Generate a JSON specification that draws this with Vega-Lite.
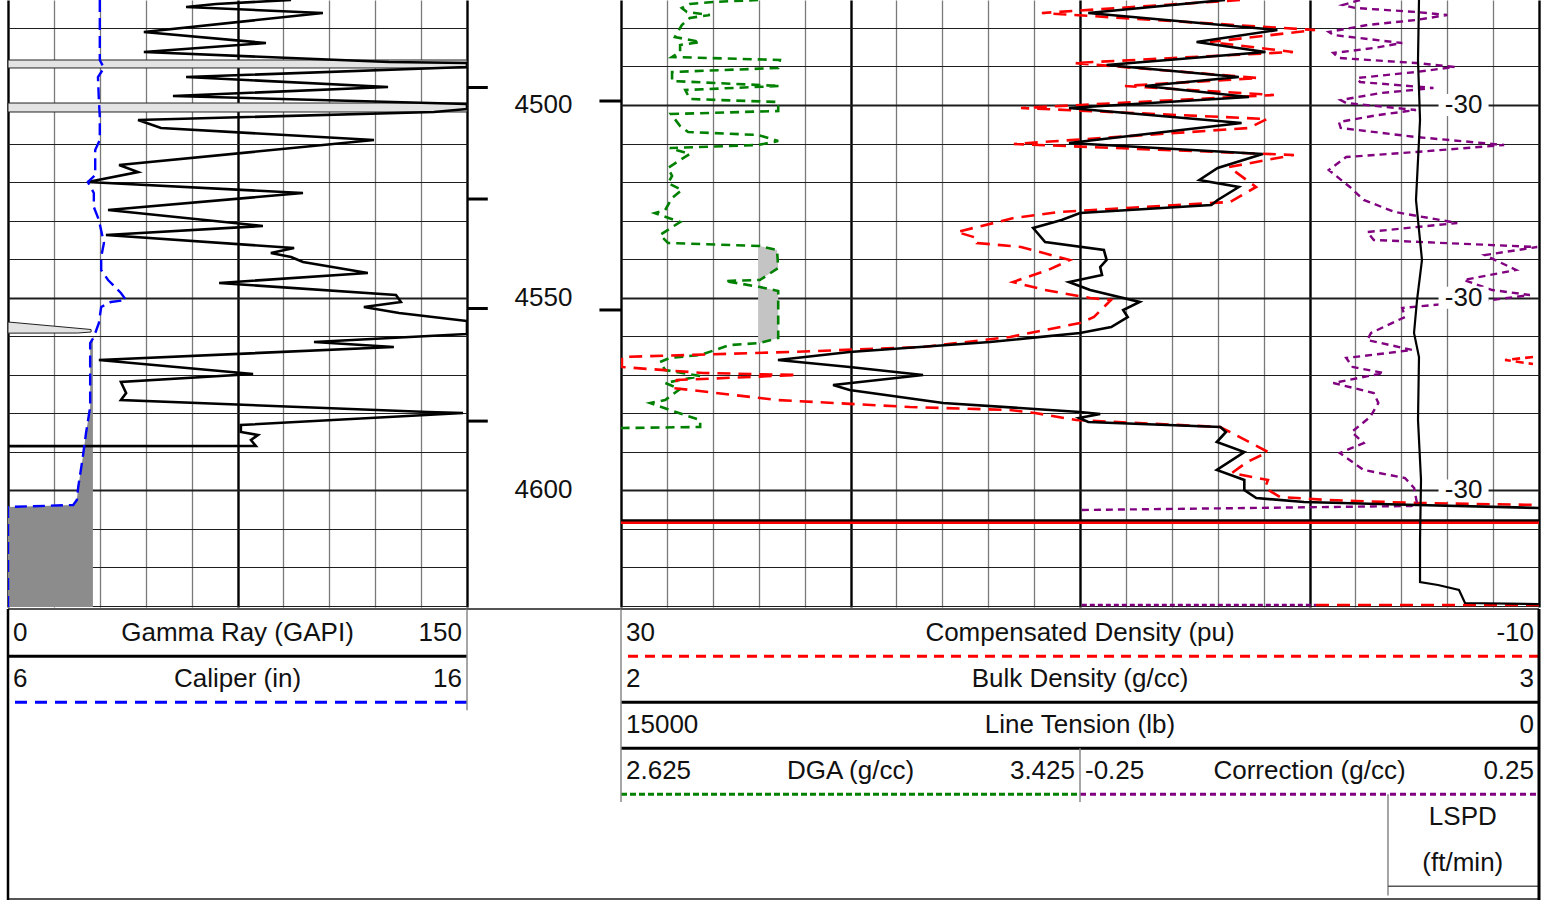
{
"$schema": "https://vega.github.io/schema/vega-lite/v6.json",
"padding": {"left": 6, "top": 0, "right": 0, "bottom": 0},
"background": "white",
"spacing": 0,
"config": {"view": {"stroke": null}, "font": "Liberation Sans", "text": {"font": "Liberation Sans"}, "concat": {"spacing": 0}},
"datasets": {
"gr": [
{"depth":4472.75,"gr":92.5},{"depth":4473.79,"gr":68.0},{"depth":4474.57,"gr":58.2},{"depth":4476.12,"gr":102.9},{"depth":4481.05,"gr":44.4},{"depth":4483.91,"gr":84.3},{"depth":4486.24,"gr":44.4},{"depth":4488.84,"gr":124.5},{"depth":4489.10,"gr":150},{"depth":4490.13,"gr":150},{"depth":4492.73,"gr":58.2},{"depth":4495.32,"gr":124.2},{"depth":4497.66,"gr":53.9},{"depth":4499.74,"gr":150},{"depth":4501.03,"gr":150},{"depth":4501.81,"gr":139.2},{"depth":4503.89,"gr":42.5},{"depth":4505.96,"gr":50.0},{"depth":4509.08,"gr":119.6},{"depth":4515.56,"gr":36.3},{"depth":4517.38,"gr":42.5},{"depth":4519.97,"gr":26.1},{"depth":4522.83,"gr":96.4},{"depth":4527.24,"gr":32.7},{"depth":4531.39,"gr":83.3},{"depth":4533.73,"gr":32.0},{"depth":4537.10,"gr":93.5},{"depth":4538.40,"gr":85.9},{"depth":4539.44,"gr":92.5},{"depth":4540.73,"gr":96.4},{"depth":4543.58,"gr":117.6},{"depth":4546.18,"gr":69.0},{"depth":4549.30,"gr":126.8},{"depth":4551.11,"gr":128.4},{"depth":4552.41,"gr":116.3},{"depth":4553.97,"gr":127.8},{"depth":4556.04,"gr":150},{"depth":4559.41,"gr":150},{"depth":4561.49,"gr":100.0},{"depth":4562.79,"gr":126.1},{"depth":4566.16,"gr":29.7},{"depth":4569.80,"gr":80.1},{"depth":4571.87,"gr":36.9},{"depth":4574.72,"gr":38.6},{"depth":4576.54,"gr":36.9},{"depth":4579.65,"gr":137.3},{"depth":4579.91,"gr":148.7},{"depth":4583.03,"gr":76.1},{"depth":4584.84,"gr":76.1},{"depth":4585.62,"gr":81.7},{"depth":4586.92,"gr":79.4},{"depth":4588.48,"gr":81.0},{"depth":4588.52,"gr":0}
],
"cali": [
{"depth":4472.75,"cal":8.00},{"depth":4488.32,"cal":8.00},{"depth":4490.39,"cal":8.09},{"depth":4492.73,"cal":7.96},{"depth":4498.70,"cal":7.98},{"depth":4503.11,"cal":8.00},{"depth":4509.08,"cal":8.00},{"depth":4511.67,"cal":7.90},{"depth":4518.16,"cal":7.90},{"depth":4519.97,"cal":7.74},{"depth":4522.83,"cal":7.87},{"depth":4526.46,"cal":7.87},{"depth":4529.83,"cal":7.98},{"depth":4535.80,"cal":8.09},{"depth":4539.44,"cal":8.03},{"depth":4542.81,"cal":8.03},{"depth":4545.40,"cal":8.18},{"depth":4548.77,"cal":8.46},{"depth":4550.59,"cal":8.57},{"depth":4551.11,"cal":8.24},{"depth":4552.41,"cal":8.03},{"depth":4556.56,"cal":7.98},{"depth":4560.19,"cal":7.87},{"depth":4561.75,"cal":7.79},{"depth":4578.36,"cal":7.79},{"depth":4585.10,"cal":7.70},{"depth":4591.33,"cal":7.63},{"depth":4599.11,"cal":7.53},{"depth":4602.49,"cal":7.50},{"depth":4603.78,"cal":7.42},{"depth":4604.30,"cal":6.0},{"depth":4630.25,"cal":6.0}
],
"hatch": [{"top":4488.32,"bot":4490.39},{"top":4499.48,"bot":4501.81}],
"wedge": [{"depth":4556.30,"w":6.0},{"depth":4558.25,"w":7.81},{"depth":4558.90,"w":7.81},{"depth":4559.16,"w":7.52},{"depth":4559.19,"w":6.0}],
"rhob": [
{"depth":4472.75,"rhob":2.658},{"depth":4476.12,"rhob":2.509},{"depth":4480.53,"rhob":2.715},{"depth":4483.65,"rhob":2.627},{"depth":4486.24,"rhob":2.702},{"depth":4489.62,"rhob":2.529},{"depth":4492.73,"rhob":2.673},{"depth":4495.06,"rhob":2.571},{"depth":4497.92,"rhob":2.684},{"depth":4500.77,"rhob":2.488},{"depth":4504.67,"rhob":2.676},{"depth":4509.85,"rhob":2.488},{"depth":4512.71,"rhob":2.699},{"depth":4516.34,"rhob":2.650},{"depth":4519.45,"rhob":2.630},{"depth":4521.27,"rhob":2.673},{"depth":4524.64,"rhob":2.650},{"depth":4525.94,"rhob":2.643},{"depth":4528.02,"rhob":2.500},{"depth":4529.83,"rhob":2.480},{"depth":4531.91,"rhob":2.449},{"depth":4535.54,"rhob":2.462},{"depth":4537.62,"rhob":2.526},{"depth":4540.21,"rhob":2.529},{"depth":4542.03,"rhob":2.522},{"depth":4544.11,"rhob":2.524},{"depth":4545.92,"rhob":2.488},{"depth":4548.00,"rhob":2.511},{"depth":4551.11,"rhob":2.565},{"depth":4553.18,"rhob":2.547},{"depth":4555.00,"rhob":2.552},{"depth":4557.60,"rhob":2.534},{"depth":4559.15,"rhob":2.500},{"depth":4561.49,"rhob":2.402},{"depth":4564.08,"rhob":2.249},{"depth":4566.16,"rhob":2.171},{"depth":4567.98,"rhob":2.249},{"depth":4570.05,"rhob":2.329},{"depth":4572.65,"rhob":2.231},{"depth":4573.95,"rhob":2.249},{"depth":4577.32,"rhob":2.351},{"depth":4579.65,"rhob":2.500},{"depth":4580.17,"rhob":2.522},{"depth":4581.21,"rhob":2.499},{"depth":4582.25,"rhob":2.509},{"depth":4583.54,"rhob":2.653},{"depth":4584.84,"rhob":2.659},{"depth":4587.44,"rhob":2.649},{"depth":4590.03,"rhob":2.679},{"depth":4594.70,"rhob":2.649},{"depth":4597.30,"rhob":2.679},{"depth":4599.89,"rhob":2.679},{"depth":4601.97,"rhob":2.692},{"depth":4603.01,"rhob":2.744},{"depth":4603.78,"rhob":2.867},{"depth":4604.56,"rhob":3.0}
],
"comp": [
{"depth":4472.75,"pu":3.03},{"depth":4476.12,"pu":11.66},{"depth":4480.53,"pu":-0.24},{"depth":4483.65,"pu":4.33},{"depth":4486.24,"pu":0.72},{"depth":4489.10,"pu":10.26},{"depth":4492.99,"pu":2.24},{"depth":4495.06,"pu":8.04},{"depth":4497.40,"pu":1.55},{"depth":4500.77,"pu":12.57},{"depth":4503.63,"pu":1.85},{"depth":4505.96,"pu":2.64},{"depth":4510.11,"pu":12.88},{"depth":4512.97,"pu":0.68},{"depth":4516.08,"pu":3.51},{"depth":4521.27,"pu":2.33},{"depth":4525.16,"pu":3.46},{"depth":4527.76,"pu":10.92},{"depth":4529.32,"pu":12.88},{"depth":4532.95,"pu":15.36},{"depth":4534.51,"pu":14.49},{"depth":4535.80,"pu":14.49},{"depth":4536.84,"pu":12.57},{"depth":4540.21,"pu":10.44},{"depth":4542.81,"pu":11.39},{"depth":4545.92,"pu":12.92},{"depth":4548.00,"pu":11.53},{"depth":4550.07,"pu":9.56},{"depth":4550.59,"pu":8.65},{"depth":4555.00,"pu":9.39},{"depth":4556.56,"pu":10.0},{"depth":4560.19,"pu":13.05},{"depth":4562.79,"pu":16.84},{"depth":4564.08,"pu":22.64},{"depth":4565.38,"pu":29.96},{"depth":4567.98,"pu":29.96},{"depth":4569.53,"pu":26.43},{"depth":4570.05,"pu":22.33},{"depth":4571.35,"pu":27.56},{"depth":4573.43,"pu":27.73},{"depth":4576.54,"pu":23.20},{"depth":4578.36,"pu":17.41},{"depth":4579.14,"pu":13.05},{"depth":4579.91,"pu":11.96},{"depth":4581.73,"pu":10.17},{"depth":4583.54,"pu":3.90},{"depth":4585.10,"pu":3.38},{"depth":4590.03,"pu":1.81},{"depth":4592.63,"pu":2.72},{"depth":4595.48,"pu":3.38},{"depth":4597.30,"pu":1.81},{"depth":4599.37,"pu":1.94},{"depth":4601.71,"pu":1.29},{"depth":4602.49,"pu":-0.80},{"depth":4603.26,"pu":-4.68},{"depth":4603.78,"pu":-10.0}
],
"compwrap": [{"depth":4565.38,"pu":-9.74},{"depth":4566.16,"pu":-8.52},{"depth":4567.20,"pu":-9.74}],
"compbottom": [{"depth":4629.73,"pu":-0.28},{"depth":4629.73,"pu":-10}],
"dga": [
{"depth":4472.75,"dga":2.864},{"depth":4473.27,"dga":2.785},{"depth":4473.79,"dga":2.745},{"depth":4474.83,"dga":2.731},{"depth":4475.86,"dga":2.740},{"depth":4476.64,"dga":2.780},{"depth":4477.42,"dga":2.745},{"depth":4479.24,"dga":2.731},{"depth":4482.35,"dga":2.719},{"depth":4483.65,"dga":2.763},{"depth":4484.43,"dga":2.728},{"depth":4486.24,"dga":2.728},{"depth":4487.54,"dga":2.714},{"depth":4488.32,"dga":2.902},{"depth":4490.39,"dga":2.899},{"depth":4491.43,"dga":2.714},{"depth":4493.77,"dga":2.714},{"depth":4495.06,"dga":2.902},{"depth":4496.10,"dga":2.737},{"depth":4498.44,"dga":2.745},{"depth":4499.22,"dga":2.899},{"depth":4501.55,"dga":2.899},{"depth":4502.33,"dga":2.712},{"depth":4505.44,"dga":2.728},{"depth":4507.00,"dga":2.742},{"depth":4507.78,"dga":2.864},{"depth":4509.34,"dga":2.899},{"depth":4510.37,"dga":2.864},{"depth":4511.15,"dga":2.710},{"depth":4512.71,"dga":2.745},{"depth":4514.27,"dga":2.728},{"depth":4516.34,"dga":2.707},{"depth":4518.42,"dga":2.714},{"depth":4520.23,"dga":2.707},{"depth":4522.05,"dga":2.731},{"depth":4524.13,"dga":2.714},{"depth":4527.24,"dga":2.702},{"depth":4528.02,"dga":2.684},{"depth":4530.35,"dga":2.728},{"depth":4533.73,"dga":2.693},{"depth":4535.80,"dga":2.707},{"depth":4536.58,"dga":2.867},{"depth":4537.62,"dga":2.897},{"depth":4542.29,"dga":2.899},{"depth":4545.40,"dga":2.867},{"depth":4545.66,"dga":2.806},{"depth":4547.22,"dga":2.867},{"depth":4548.26,"dga":2.899},{"depth":4560.45,"dga":2.899},{"depth":4561.75,"dga":2.867},{"depth":4562.27,"dga":2.815},{"depth":4564.86,"dga":2.763},{"depth":4565.64,"dga":2.710},{"depth":4566.68,"dga":2.693},{"depth":4568.75,"dga":2.702},{"depth":4570.31,"dga":2.763},{"depth":4572.13,"dga":2.702},{"depth":4573.69,"dga":2.728},{"depth":4576.54,"dga":2.702},{"depth":4577.32,"dga":2.676},{"depth":4579.14,"dga":2.710},{"depth":4581.73,"dga":2.763},{"depth":4583.54,"dga":2.763},{"depth":4583.81,"dga":2.625}
],
"corr": [
{"depth":4472.75,"corr":0.055},{"depth":4474.05,"corr":0.036},{"depth":4474.83,"corr":0.050},{"depth":4475.86,"corr":0.116},{"depth":4476.64,"corr":0.150},{"depth":4477.94,"corr":0.116},{"depth":4479.24,"corr":0.063},{"depth":4481.05,"corr":0.021},{"depth":4481.83,"corr":0.026},{"depth":4483.91,"corr":0.101},{"depth":4485.20,"corr":0.070},{"depth":4486.50,"corr":0.026},{"depth":4487.80,"corr":0.032},{"depth":4489.10,"corr":0.116},{"depth":4490.13,"corr":0.158},{"depth":4491.43,"corr":0.116},{"depth":4492.99,"corr":0.052},{"depth":4494.03,"corr":0.055},{"depth":4495.58,"corr":0.135},{"depth":4496.88,"corr":0.078},{"depth":4498.70,"corr":0.034},{"depth":4499.48,"corr":0.040},{"depth":4501.29,"corr":0.116},{"depth":4502.59,"corr":0.075},{"depth":4504.41,"corr":0.032},{"depth":4505.96,"corr":0.034},{"depth":4508.30,"corr":0.116},{"depth":4510.37,"corr":0.212},{"depth":4512.19,"corr":0.116},{"depth":4513.49,"corr":0.040},{"depth":4516.86,"corr":0.021},{"depth":4521.27,"corr":0.044},{"depth":4524.64,"corr":0.059},{"depth":4527.76,"corr":0.093},{"depth":4530.61,"corr":0.161},{"depth":4532.95,"corr":0.063},{"depth":4535.02,"corr":0.070},{"depth":4536.84,"corr":0.248},{"depth":4538.92,"corr":0.191},{"depth":4542.81,"corr":0.225},{"depth":4545.40,"corr":0.168},{"depth":4548.00,"corr":0.199},{"depth":4549.30,"corr":0.240},{"depth":4550.59,"corr":0.199},{"depth":4551.89,"corr":0.135},{"depth":4552.67,"corr":0.101},{"depth":4555.00,"corr":0.104},{"depth":4559.15,"corr":0.067},{"depth":4560.97,"corr":0.063},{"depth":4563.57,"corr":0.112},{"depth":4565.64,"corr":0.040},{"depth":4567.98,"corr":0.047},{"depth":4569.53,"corr":0.081},{"depth":4572.13,"corr":0.026},{"depth":4574.72,"corr":0.070},{"depth":4577.32,"corr":0.075},{"depth":4580.95,"corr":0.066},{"depth":4584.84,"corr":0.046},{"depth":4587.70,"corr":0.059},{"depth":4590.29,"corr":0.033},{"depth":4594.70,"corr":0.059},{"depth":4596.78,"corr":0.104},{"depth":4599.37,"corr":0.114},{"depth":4603.26,"corr":0.117},{"depth":4604.04,"corr":0.111},{"depth":4604.56,"corr":-0.065},{"depth":4605.08,"corr":-0.248}
],
"corrbottom": [{"depth":4629.73,"corr":-0.248},{"depth":4629.73,"corr":0.007}],
"tens": [
{"depth":4472.75,"ten":1961},{"depth":4488.32,"ten":1977},{"depth":4503.89,"ten":1944},{"depth":4524.64,"ten":2010},{"depth":4540.21,"ten":1912},{"depth":4550.59,"ten":1993},{"depth":4559.15,"ten":2042},{"depth":4565.38,"ten":1961},{"depth":4581.73,"ten":1977},{"depth":4597.30,"ten":1928},{"depth":4612.87,"ten":1944},{"depth":4623.77,"ten":1944},{"depth":4624.55,"ten":1650},{"depth":4625.84,"ten":1307},{"depth":4629.21,"ten":1209},{"depth":4629.50,"ten":0}
],
"lspd": [{"depth":4500,"lspd":-30,"label":"-30"},{"depth":4550,"lspd":-30,"label":"-30"},{"depth":4600,"lspd":-30,"label":"-30"}],
"dticks": [{"depth":4495.45,"side":"L"},{"depth":4524.39,"side":"L"},{"depth":4552.80,"side":"L"},{"depth":4582.01,"side":"L"},{"depth":4498.96,"side":"R"},{"depth":4553.18,"side":"R"}],
"dlabels": [{"depth":4500,"label":"4500"},{"depth":4550,"label":"4550"},{"depth":4600,"label":"4600"}],
"h1txt": [
{"row":0.5,"v":0,"a":"left","t":"0"},{"row":0.5,"v":75,"a":"center","t":"Gamma Ray (GAPI)"},{"row":0.5,"v":150,"a":"right","t":"150"},
{"row":1.5,"v":0,"a":"left","t":"6"},{"row":1.5,"v":75,"a":"center","t":"Caliper (in)"},{"row":1.5,"v":150,"a":"right","t":"16"}
],
"h2txt": [
{"row":0.5,"f":0,"a":"left","t":"30"},{"row":0.5,"f":0.5,"a":"center","t":"Compensated Density (pu)"},{"row":0.5,"f":1,"a":"right","t":"-10"},
{"row":1.5,"f":0,"a":"left","t":"2"},{"row":1.5,"f":0.5,"a":"center","t":"Bulk Density (g/cc)"},{"row":1.5,"f":1,"a":"right","t":"3"},
{"row":2.5,"f":0,"a":"left","t":"15000"},{"row":2.5,"f":0.5,"a":"center","t":"Line Tension (lb)"},{"row":2.5,"f":1,"a":"right","t":"0"},
{"row":3.5,"f":0,"a":"left","t":"2.625"},{"row":3.5,"f":0.25,"a":"center","t":"DGA (g/cc)"},{"row":3.5,"f":0.5,"a":"right","t":"3.425"},
{"row":3.5,"f":0.5,"a":"left","t":"-0.25"},{"row":3.5,"f":0.75,"a":"center","t":"Correction (g/cc)"},{"row":3.5,"f":1,"a":"right","t":"0.25"},
{"row":4.5,"f":0.917,"a":"center","t":"LSPD"},{"row":5.5,"f":0.917,"a":"center","t":"(ft/min)"}
]
},
"vconcat": [
{"spacing": 0, "bounds": "flush", "hconcat": [
{
"width": 459, "height": 607,
"resolve": {"scale": {"x": "independent"}, "axis": {"x": "independent"}},
"layer": [
{"data": {"name": "hatch"}, "mark": {"type": "rect", "fill": "#e3e3e3", "stroke": "#222", "strokeWidth": 1},
 "encoding": {
  "x": {"datum": 0, "type": "quantitative", "scale": {"domain": [0, 150], "nice": false, "zero": false},
        "axis": {"grid": true, "values": [0,15,30,45,60,75,90,105,120,135,150], "labels": false, "ticks": false, "domain": false, "title": null,
                 "gridColor": {"condition": {"test": "datum.value === 0 || datum.value === 75 || datum.value === 150", "value": "#000000"}, "value": "#7a7a7a"},
                 "gridWidth": {"condition": {"test": "datum.value === 0 || datum.value === 75 || datum.value === 150", "value": 2.4}, "value": 1.3}}},
  "x2": {"datum": 150},
  "y": {"field": "top", "type": "quantitative", "scale": {"domain": [4472.75, 4630.25], "reverse": true, "nice": false, "zero": false},
        "axis": {"grid": true, "values": [4480,4490,4500,4510,4520,4530,4540,4550,4560,4570,4580,4590,4600,4610,4620,4630], "labels": false, "ticks": false, "domain": false, "title": null, "gridColor": "#1e1e1e", "gridWidth": {"condition": {"test": "datum.value % 50 === 0", "value": 2.2}, "value": 1}}},
  "y2": {"field": "bot"}
 }},
{"data": {"name": "wedge"}, "mark": {"type": "area", "orient": "horizontal", "fill": "#e3e3e3", "stroke": "#222", "strokeWidth": 1},
 "encoding": {
  "x": {"field": "w", "type": "quantitative", "scale": {"domain": [6, 16], "nice": false, "zero": false}, "axis": null},
  "x2": {"datum": 6},
  "y": {"field": "depth", "type": "quantitative", "scale": {"domain": [4472.75, 4630.25], "reverse": true, "nice": false, "zero": false},
        "axis": {"grid": true, "values": [4480,4490,4500,4510,4520,4530,4540,4550,4560,4570,4580,4590,4600,4610,4620,4630], "labels": false, "ticks": false, "domain": false, "title": null, "gridColor": "#1e1e1e", "gridWidth": {"condition": {"test": "datum.value % 50 === 0", "value": 2.2}, "value": 1}}}
 }},
{"data": {"name": "cali"}, "transform": [{"filter": "datum.depth >= 4560"}],
 "mark": {"type": "area", "orient": "horizontal", "fill": "#8c8c8c", "clip": true},
 "encoding": {
  "x": {"field": "cal", "type": "quantitative", "scale": {"domain": [6, 16], "nice": false, "zero": false}, "axis": null},
  "x2": {"datum": 7.85},
  "y": {"field": "depth", "type": "quantitative", "scale": {"domain": [4472.75, 4630.25], "reverse": true, "nice": false, "zero": false},
        "axis": {"grid": true, "values": [4480,4490,4500,4510,4520,4530,4540,4550,4560,4570,4580,4590,4600,4610,4620,4630], "labels": false, "ticks": false, "domain": false, "title": null, "gridColor": "#1e1e1e", "gridWidth": {"condition": {"test": "datum.value % 50 === 0", "value": 2.2}, "value": 1}}}
 }},
{"data": {"name": "gr"}, "mark": {"type": "line", "color": "#000", "strokeWidth": 2.6, "clip": true},
 "encoding": {
  "x": {"field": "gr", "type": "quantitative", "scale": {"domain": [0, 150], "nice": false, "zero": false}, "axis": null},
  "y": {"field": "depth", "type": "quantitative", "scale": {"domain": [4472.75, 4630.25], "reverse": true, "nice": false, "zero": false},
        "axis": {"grid": true, "values": [4480,4490,4500,4510,4520,4530,4540,4550,4560,4570,4580,4590,4600,4610,4620,4630], "labels": false, "ticks": false, "domain": false, "title": null, "gridColor": "#1e1e1e", "gridWidth": {"condition": {"test": "datum.value % 50 === 0", "value": 2.2}, "value": 1}}},
  "order": {"field": "depth", "type": "quantitative"}
 }},
{"data": {"name": "cali"}, "mark": {"type": "line", "color": "#0000ff", "strokeWidth": 2.4, "strokeDash": [12, 6], "clip": true},
 "encoding": {
  "x": {"field": "cal", "type": "quantitative", "scale": {"domain": [6, 16], "nice": false, "zero": false}, "axis": null},
  "y": {"field": "depth", "type": "quantitative", "scale": {"domain": [4472.75, 4630.25], "reverse": true, "nice": false, "zero": false},
        "axis": {"grid": true, "values": [4480,4490,4500,4510,4520,4530,4540,4550,4560,4570,4580,4590,4600,4610,4620,4630], "labels": false, "ticks": false, "domain": false, "title": null, "gridColor": "#1e1e1e", "gridWidth": {"condition": {"test": "datum.value % 50 === 0", "value": 2.2}, "value": 1}}},
  "order": {"field": "depth", "type": "quantitative"}
 }}
]
},
{
"width": 154, "height": 607,
"layer": [
{"data": {"name": "dticks"}, "transform": [{"filter": "datum.side === 'L'"}], "mark": {"type": "rule", "strokeWidth": 3, "color": "#000"},
 "encoding": {
  "x": {"datum": 0, "type": "quantitative", "scale": {"domain": [0, 1], "nice": false, "zero": false}, "axis": null},
  "x2": {"datum": 0.135},
  "y": {"field": "depth", "type": "quantitative", "scale": {"domain": [4472.75, 4630.25], "reverse": true, "nice": false, "zero": false}, "axis": null}
 }},
{"data": {"name": "dticks"}, "transform": [{"filter": "datum.side === 'R'"}], "mark": {"type": "rule", "strokeWidth": 3, "color": "#000"},
 "encoding": {
  "x": {"datum": 0.86, "type": "quantitative", "scale": {"domain": [0, 1], "nice": false, "zero": false}, "axis": null},
  "x2": {"datum": 1},
  "y": {"field": "depth", "type": "quantitative", "scale": {"domain": [4472.75, 4630.25], "reverse": true, "nice": false, "zero": false}, "axis": null}
 }},
{"data": {"name": "dlabels"}, "mark": {"type": "text", "fontSize": 26, "font": "Liberation Sans", "color": "#111", "align": "center", "baseline": "middle"},
 "encoding": {
  "x": {"datum": 0.497, "type": "quantitative", "scale": {"domain": [0, 1], "nice": false, "zero": false}, "axis": null},
  "y": {"field": "depth", "type": "quantitative", "scale": {"domain": [4472.75, 4630.25], "reverse": true, "nice": false, "zero": false}, "axis": null},
  "text": {"field": "label"}
 }}
]
},
{
"width": 918, "height": 607,
"resolve": {"scale": {"x": "independent"}, "axis": {"x": "independent"}},
"layer": [
{"data": {"values": [{"depth": 4607.86}]}, "mark": {"type": "rule", "color": "#000", "strokeWidth": 3},
 "encoding": {
  "x": {"datum": 2, "type": "quantitative", "scale": {"domain": [2, 3], "nice": false, "zero": false},
        "axis": {"grid": true, "values": [2,2.05,2.1,2.15,2.2,2.25,2.3,2.35,2.4,2.45,2.5,2.55,2.6,2.65,2.7,2.75,2.8,2.85,2.9,2.95,3], "labels": false, "ticks": false, "domain": false, "title": null,
                 "gridColor": {"condition": {"test": "datum.value === 2 || datum.value === 2.25 || datum.value === 2.5 || datum.value === 2.75 || datum.value === 3", "value": "#000000"}, "value": "#7a7a7a"},
                 "gridWidth": {"condition": {"test": "datum.value === 2 || datum.value === 2.25 || datum.value === 2.5 || datum.value === 2.75 || datum.value === 3", "value": 2.4}, "value": 1.3}}},
  "x2": {"datum": 3},
  "y": {"field": "depth", "type": "quantitative", "scale": {"domain": [4472.75, 4630.25], "reverse": true, "nice": false, "zero": false},
        "axis": {"grid": true, "values": [4480,4490,4500,4510,4520,4530,4540,4550,4560,4570,4580,4590,4600,4610,4620,4630], "labels": false, "ticks": false, "domain": false, "title": null, "gridColor": "#1e1e1e", "gridWidth": {"condition": {"test": "datum.value % 50 === 0", "value": 2.2}, "value": 1}}}
 }},
{"data": {"values": [{"depth": 4608.38}]}, "mark": {"type": "rule", "color": "#ff0000", "strokeWidth": 2.5},
 "encoding": {
  "y": {"field": "depth", "type": "quantitative", "scale": {"domain": [4472.75, 4630.25], "reverse": true, "nice": false, "zero": false},
        "axis": {"grid": true, "values": [4480,4490,4500,4510,4520,4530,4540,4550,4560,4570,4580,4590,4600,4610,4620,4630], "labels": false, "ticks": false, "domain": false, "title": null, "gridColor": "#1e1e1e", "gridWidth": {"condition": {"test": "datum.value % 50 === 0", "value": 2.2}, "value": 1}}}
 }},
{"data": {"name": "dga"}, "transform": [{"filter": "datum.depth >= 4536 && datum.depth <= 4562 && datum.dga >= 2.86"}],
 "mark": {"type": "area", "orient": "horizontal", "fill": "#c4c4c4"},
 "encoding": {
  "x": {"field": "dga", "type": "quantitative", "scale": {"domain": [2.625, 4.225], "nice": false, "zero": false}, "axis": null},
  "x2": {"datum": 2.864},
  "y": {"field": "depth", "type": "quantitative", "scale": {"domain": [4472.75, 4630.25], "reverse": true, "nice": false, "zero": false},
        "axis": {"grid": true, "values": [4480,4490,4500,4510,4520,4530,4540,4550,4560,4570,4580,4590,4600,4610,4620,4630], "labels": false, "ticks": false, "domain": false, "title": null, "gridColor": "#1e1e1e", "gridWidth": {"condition": {"test": "datum.value % 50 === 0", "value": 2.2}, "value": 1}}}
 }},
{"data": {"name": "dga"}, "mark": {"type": "line", "color": "#008000", "strokeWidth": 2.6, "strokeDash": [9, 6], "clip": true},
 "encoding": {
  "x": {"field": "dga", "type": "quantitative", "scale": {"domain": [2.625, 4.225], "nice": false, "zero": false}, "axis": null},
  "y": {"field": "depth", "type": "quantitative", "scale": {"domain": [4472.75, 4630.25], "reverse": true, "nice": false, "zero": false},
        "axis": {"grid": true, "values": [4480,4490,4500,4510,4520,4530,4540,4550,4560,4570,4580,4590,4600,4610,4620,4630], "labels": false, "ticks": false, "domain": false, "title": null, "gridColor": "#1e1e1e", "gridWidth": {"condition": {"test": "datum.value % 50 === 0", "value": 2.2}, "value": 1}}},
  "order": {"field": "depth", "type": "quantitative"}
 }},
{"data": {"name": "comp"}, "mark": {"type": "line", "color": "#ff0000", "strokeWidth": 2.6, "strokeDash": [13, 8], "clip": true},
 "encoding": {
  "x": {"field": "pu", "type": "quantitative", "scale": {"domain": [-10, 30], "reverse": true, "nice": false, "zero": false}, "axis": null},
  "y": {"field": "depth", "type": "quantitative", "scale": {"domain": [4472.75, 4630.25], "reverse": true, "nice": false, "zero": false},
        "axis": {"grid": true, "values": [4480,4490,4500,4510,4520,4530,4540,4550,4560,4570,4580,4590,4600,4610,4620,4630], "labels": false, "ticks": false, "domain": false, "title": null, "gridColor": "#1e1e1e", "gridWidth": {"condition": {"test": "datum.value % 50 === 0", "value": 2.2}, "value": 1}}},
  "order": {"field": "depth", "type": "quantitative"}
 }},
{"data": {"name": "compwrap"}, "mark": {"type": "line", "color": "#ff0000", "strokeWidth": 2.6, "strokeDash": [8, 5], "clip": true},
 "encoding": {
  "x": {"field": "pu", "type": "quantitative", "scale": {"domain": [-10, 30], "reverse": true, "nice": false, "zero": false}, "axis": null},
  "y": {"field": "depth", "type": "quantitative", "scale": {"domain": [4472.75, 4630.25], "reverse": true, "nice": false, "zero": false},
        "axis": {"grid": true, "values": [4480,4490,4500,4510,4520,4530,4540,4550,4560,4570,4580,4590,4600,4610,4620,4630], "labels": false, "ticks": false, "domain": false, "title": null, "gridColor": "#1e1e1e", "gridWidth": {"condition": {"test": "datum.value % 50 === 0", "value": 2.2}, "value": 1}}},
  "order": {"field": "depth", "type": "quantitative"}
 }},
{"data": {"name": "compbottom"}, "mark": {"type": "line", "color": "#ff0000", "strokeWidth": 2.6, "strokeDash": [13, 8], "clip": true},
 "encoding": {
  "x": {"field": "pu", "type": "quantitative", "scale": {"domain": [-10, 30], "reverse": true, "nice": false, "zero": false}, "axis": null},
  "y": {"field": "depth", "type": "quantitative", "scale": {"domain": [4472.75, 4630.25], "reverse": true, "nice": false, "zero": false},
        "axis": {"grid": true, "values": [4480,4490,4500,4510,4520,4530,4540,4550,4560,4570,4580,4590,4600,4610,4620,4630], "labels": false, "ticks": false, "domain": false, "title": null, "gridColor": "#1e1e1e", "gridWidth": {"condition": {"test": "datum.value % 50 === 0", "value": 2.2}, "value": 1}}},
  "order": {"field": "pu", "type": "quantitative"}
 }},
{"data": {"name": "corr"}, "mark": {"type": "line", "color": "#800080", "strokeWidth": 2.4, "strokeDash": [7, 5], "clip": true},
 "encoding": {
  "x": {"field": "corr", "type": "quantitative", "scale": {"domain": [-0.75, 0.25], "nice": false, "zero": false}, "axis": null},
  "y": {"field": "depth", "type": "quantitative", "scale": {"domain": [4472.75, 4630.25], "reverse": true, "nice": false, "zero": false},
        "axis": {"grid": true, "values": [4480,4490,4500,4510,4520,4530,4540,4550,4560,4570,4580,4590,4600,4610,4620,4630], "labels": false, "ticks": false, "domain": false, "title": null, "gridColor": "#1e1e1e", "gridWidth": {"condition": {"test": "datum.value % 50 === 0", "value": 2.2}, "value": 1}}},
  "order": {"field": "depth", "type": "quantitative"}
 }},
{"data": {"name": "corrbottom"}, "mark": {"type": "line", "color": "#800080", "strokeWidth": 2.4, "strokeDash": [5, 3], "clip": true},
 "encoding": {
  "x": {"field": "corr", "type": "quantitative", "scale": {"domain": [-0.75, 0.25], "nice": false, "zero": false}, "axis": null},
  "y": {"field": "depth", "type": "quantitative", "scale": {"domain": [4472.75, 4630.25], "reverse": true, "nice": false, "zero": false},
        "axis": {"grid": true, "values": [4480,4490,4500,4510,4520,4530,4540,4550,4560,4570,4580,4590,4600,4610,4620,4630], "labels": false, "ticks": false, "domain": false, "title": null, "gridColor": "#1e1e1e", "gridWidth": {"condition": {"test": "datum.value % 50 === 0", "value": 2.2}, "value": 1}}},
  "order": {"field": "corr", "type": "quantitative"}
 }},
{"data": {"name": "rhob"}, "mark": {"type": "line", "color": "#000", "strokeWidth": 2.6, "clip": true},
 "encoding": {
  "x": {"field": "rhob", "type": "quantitative", "scale": {"domain": [2, 3], "nice": false, "zero": false}, "axis": null},
  "y": {"field": "depth", "type": "quantitative", "scale": {"domain": [4472.75, 4630.25], "reverse": true, "nice": false, "zero": false},
        "axis": {"grid": true, "values": [4480,4490,4500,4510,4520,4530,4540,4550,4560,4570,4580,4590,4600,4610,4620,4630], "labels": false, "ticks": false, "domain": false, "title": null, "gridColor": "#1e1e1e", "gridWidth": {"condition": {"test": "datum.value % 50 === 0", "value": 2.2}, "value": 1}}},
  "order": {"field": "depth", "type": "quantitative"}
 }},
{"data": {"name": "tens"}, "mark": {"type": "line", "color": "#000", "strokeWidth": 2.2, "clip": true},
 "encoding": {
  "x": {"field": "ten", "type": "quantitative", "scale": {"domain": [0, 15000], "reverse": true, "nice": false, "zero": false}, "axis": null},
  "y": {"field": "depth", "type": "quantitative", "scale": {"domain": [4472.75, 4630.25], "reverse": true, "nice": false, "zero": false},
        "axis": {"grid": true, "values": [4480,4490,4500,4510,4520,4530,4540,4550,4560,4570,4580,4590,4600,4610,4620,4630], "labels": false, "ticks": false, "domain": false, "title": null, "gridColor": "#1e1e1e", "gridWidth": {"condition": {"test": "datum.value % 50 === 0", "value": 2.2}, "value": 1}}},
  "order": {"field": "depth", "type": "quantitative"}
 }},
{"data": {"name": "lspd"}, "mark": {"type": "rect", "width": 50, "height": 22, "fill": "white"},
 "encoding": {
  "x": {"field": "lspd", "type": "quantitative", "scale": {"domain": [-365, 0], "nice": false, "zero": false}, "axis": null},
  "y": {"field": "depth", "type": "quantitative", "scale": {"domain": [4472.75, 4630.25], "reverse": true, "nice": false, "zero": false},
        "axis": {"grid": true, "values": [4480,4490,4500,4510,4520,4530,4540,4550,4560,4570,4580,4590,4600,4610,4620,4630], "labels": false, "ticks": false, "domain": false, "title": null, "gridColor": "#1e1e1e", "gridWidth": {"condition": {"test": "datum.value % 50 === 0", "value": 2.2}, "value": 1}}}
 }},
{"data": {"name": "lspd"}, "mark": {"type": "text", "fontSize": 26, "font": "Liberation Sans", "color": "#111", "align": "center", "baseline": "middle"},
 "encoding": {
  "x": {"field": "lspd", "type": "quantitative", "scale": {"domain": [-365, 0], "nice": false, "zero": false}, "axis": null},
  "y": {"field": "depth", "type": "quantitative", "scale": {"domain": [4472.75, 4630.25], "reverse": true, "nice": false, "zero": false},
        "axis": {"grid": true, "values": [4480,4490,4500,4510,4520,4530,4540,4550,4560,4570,4580,4590,4600,4610,4620,4630], "labels": false, "ticks": false, "domain": false, "title": null, "gridColor": "#1e1e1e", "gridWidth": {"condition": {"test": "datum.value % 50 === 0", "value": 2.2}, "value": 1}}},
  "text": {"field": "label"}
 }}
]
}
]},
{"spacing": 0, "bounds": "flush", "hconcat": [
{
"width": 459, "height": 291,
"layer": [
{"data": {"name": "h1txt"}, "transform": [{"filter": "datum.a === 'left'"}], "mark": {"type": "text", "fontSize": 26, "font": "Liberation Sans", "color": "#111", "align": "left", "baseline": "middle", "dx": 5},
 "encoding": {"x": {"field": "v", "type": "quantitative", "scale": {"domain": [0, 150], "nice": false, "zero": false}, "axis": null},
  "y": {"field": "row", "type": "quantitative", "scale": {"domain": [-0.03, 6.3], "reverse": true, "nice": false, "zero": false}, "axis": null},
  "text": {"field": "t"}}},
{"data": {"name": "h1txt"}, "transform": [{"filter": "datum.a === 'center'"}], "mark": {"type": "text", "fontSize": 26, "font": "Liberation Sans", "color": "#111", "align": "center", "baseline": "middle"},
 "encoding": {"x": {"field": "v", "type": "quantitative", "scale": {"domain": [0, 150], "nice": false, "zero": false}, "axis": null},
  "y": {"field": "row", "type": "quantitative", "scale": {"domain": [-0.03, 6.3], "reverse": true, "nice": false, "zero": false}, "axis": null},
  "text": {"field": "t"}}},
{"data": {"name": "h1txt"}, "transform": [{"filter": "datum.a === 'right'"}], "mark": {"type": "text", "fontSize": 26, "font": "Liberation Sans", "color": "#111", "align": "right", "baseline": "middle", "dx": -5},
 "encoding": {"x": {"field": "v", "type": "quantitative", "scale": {"domain": [0, 150], "nice": false, "zero": false}, "axis": null},
  "y": {"field": "row", "type": "quantitative", "scale": {"domain": [-0.03, 6.3], "reverse": true, "nice": false, "zero": false}, "axis": null},
  "text": {"field": "t"}}},
{"data": {"values": [{"row": 1}]}, "mark": {"type": "rule", "color": "#000", "strokeWidth": 3},
 "encoding": {"y": {"field": "row", "type": "quantitative", "scale": {"domain": [-0.03, 6.3], "reverse": true, "nice": false, "zero": false}, "axis": null}}},
{"data": {"values": [{"row": 2}]}, "mark": {"type": "rule", "color": "#0000ff", "strokeWidth": 3, "strokeDash": [12, 8]},
 "encoding": {"y": {"field": "row", "type": "quantitative", "scale": {"domain": [-0.03, 6.3], "reverse": true, "nice": false, "zero": false}, "axis": null}}},
{"data": {"values": [{"row": -0.03}, {"row": 6.28}]}, "mark": {"type": "rule", "color": "#555", "strokeWidth": 2},
 "encoding": {"y": {"field": "row", "type": "quantitative", "scale": {"domain": [-0.03, 6.3], "reverse": true, "nice": false, "zero": false}, "axis": null}}},
{"data": {"values": [{"v": 0}]}, "mark": {"type": "rule", "color": "#000", "strokeWidth": 2.5},
 "encoding": {"x": {"field": "v", "type": "quantitative", "scale": {"domain": [0, 150], "nice": false, "zero": false}, "axis": null}}},
{"data": {"values": [{"v": 150, "row": -0.03, "row2": 2.17}]}, "mark": {"type": "rule", "color": "#888", "strokeWidth": 1.5},
 "encoding": {"x": {"field": "v", "type": "quantitative", "scale": {"domain": [0, 150], "nice": false, "zero": false}, "axis": null},
  "y": {"field": "row", "type": "quantitative", "scale": {"domain": [-0.03, 6.3], "reverse": true, "nice": false, "zero": false}, "axis": null},
  "y2": {"field": "row2"}}}
]
},
{
"width": 154, "height": 291,
"layer": [
{"data": {"values": [{"row": -0.03}, {"row": 6.28}]}, "mark": {"type": "rule", "color": "#555", "strokeWidth": 2},
 "encoding": {"y": {"field": "row", "type": "quantitative", "scale": {"domain": [-0.03, 6.3], "reverse": true, "nice": false, "zero": false}, "axis": null}}}
]
},
{
"width": 918, "height": 291,
"layer": [
{"data": {"name": "h2txt"}, "transform": [{"filter": "datum.a === 'left'"}], "mark": {"type": "text", "fontSize": 26, "font": "Liberation Sans", "color": "#111", "align": "left", "baseline": "middle", "dx": 5},
 "encoding": {"x": {"field": "f", "type": "quantitative", "scale": {"domain": [0, 1], "nice": false, "zero": false}, "axis": null},
  "y": {"field": "row", "type": "quantitative", "scale": {"domain": [-0.03, 6.3], "reverse": true, "nice": false, "zero": false}, "axis": null},
  "text": {"field": "t"}}},
{"data": {"name": "h2txt"}, "transform": [{"filter": "datum.a === 'center'"}], "mark": {"type": "text", "fontSize": 26, "font": "Liberation Sans", "color": "#111", "align": "center", "baseline": "middle"},
 "encoding": {"x": {"field": "f", "type": "quantitative", "scale": {"domain": [0, 1], "nice": false, "zero": false}, "axis": null},
  "y": {"field": "row", "type": "quantitative", "scale": {"domain": [-0.03, 6.3], "reverse": true, "nice": false, "zero": false}, "axis": null},
  "text": {"field": "t"}}},
{"data": {"name": "h2txt"}, "transform": [{"filter": "datum.a === 'right'"}], "mark": {"type": "text", "fontSize": 26, "font": "Liberation Sans", "color": "#111", "align": "right", "baseline": "middle", "dx": -5},
 "encoding": {"x": {"field": "f", "type": "quantitative", "scale": {"domain": [0, 1], "nice": false, "zero": false}, "axis": null},
  "y": {"field": "row", "type": "quantitative", "scale": {"domain": [-0.03, 6.3], "reverse": true, "nice": false, "zero": false}, "axis": null},
  "text": {"field": "t"}}},
{"data": {"values": [{"row": 1}]}, "mark": {"type": "rule", "color": "#ff0000", "strokeWidth": 3, "strokeDash": [10, 7]},
 "encoding": {"y": {"field": "row", "type": "quantitative", "scale": {"domain": [-0.03, 6.3], "reverse": true, "nice": false, "zero": false}, "axis": null}}},
{"data": {"values": [{"row": 2}, {"row": 3}]}, "mark": {"type": "rule", "color": "#000", "strokeWidth": 3},
 "encoding": {"y": {"field": "row", "type": "quantitative", "scale": {"domain": [-0.03, 6.3], "reverse": true, "nice": false, "zero": false}, "axis": null}}},
{"data": {"values": [{"row": 4, "f": 0, "f2": 0.5}]}, "mark": {"type": "rule", "color": "#008000", "strokeWidth": 3, "strokeDash": [6, 3]},
 "encoding": {"x": {"field": "f", "type": "quantitative", "scale": {"domain": [0, 1], "nice": false, "zero": false}, "axis": null}, "x2": {"field": "f2"},
  "y": {"field": "row", "type": "quantitative", "scale": {"domain": [-0.03, 6.3], "reverse": true, "nice": false, "zero": false}, "axis": null}}},
{"data": {"values": [{"row": 4, "f": 0.5, "f2": 1}]}, "mark": {"type": "rule", "color": "#800080", "strokeWidth": 3, "strokeDash": [6, 4]},
 "encoding": {"x": {"field": "f", "type": "quantitative", "scale": {"domain": [0, 1], "nice": false, "zero": false}, "axis": null}, "x2": {"field": "f2"},
  "y": {"field": "row", "type": "quantitative", "scale": {"domain": [-0.03, 6.3], "reverse": true, "nice": false, "zero": false}, "axis": null}}},
{"data": {"values": [{"f": 0, "row": -0.03, "row2": 4.17}, {"f": 0.5, "row": 3, "row2": 4.17}, {"f": 0.8355, "row": 4, "row2": 6.2}]}, "mark": {"type": "rule", "color": "#888", "strokeWidth": 1.5},
 "encoding": {"x": {"field": "f", "type": "quantitative", "scale": {"domain": [0, 1], "nice": false, "zero": false}, "axis": null},
  "y": {"field": "row", "type": "quantitative", "scale": {"domain": [-0.03, 6.3], "reverse": true, "nice": false, "zero": false}, "axis": null},
  "y2": {"field": "row2"}}},
{"data": {"values": [{"row": 6, "f": 0.8355, "f2": 1}]}, "mark": {"type": "rule", "color": "#555", "strokeWidth": 1.5},
 "encoding": {"x": {"field": "f", "type": "quantitative", "scale": {"domain": [0, 1], "nice": false, "zero": false}, "axis": null}, "x2": {"field": "f2"},
  "y": {"field": "row", "type": "quantitative", "scale": {"domain": [-0.03, 6.3], "reverse": true, "nice": false, "zero": false}, "axis": null}}},
{"data": {"values": [{"row": -0.03}, {"row": 6.28}]}, "mark": {"type": "rule", "color": "#555", "strokeWidth": 2},
 "encoding": {"y": {"field": "row", "type": "quantitative", "scale": {"domain": [-0.03, 6.3], "reverse": true, "nice": false, "zero": false}, "axis": null}}},
{"data": {"values": [{"f": 1}]}, "mark": {"type": "rule", "color": "#000", "strokeWidth": 3},
 "encoding": {"x": {"field": "f", "type": "quantitative", "scale": {"domain": [0, 1], "nice": false, "zero": false}, "axis": null}}}
]
}
]}
]
}
